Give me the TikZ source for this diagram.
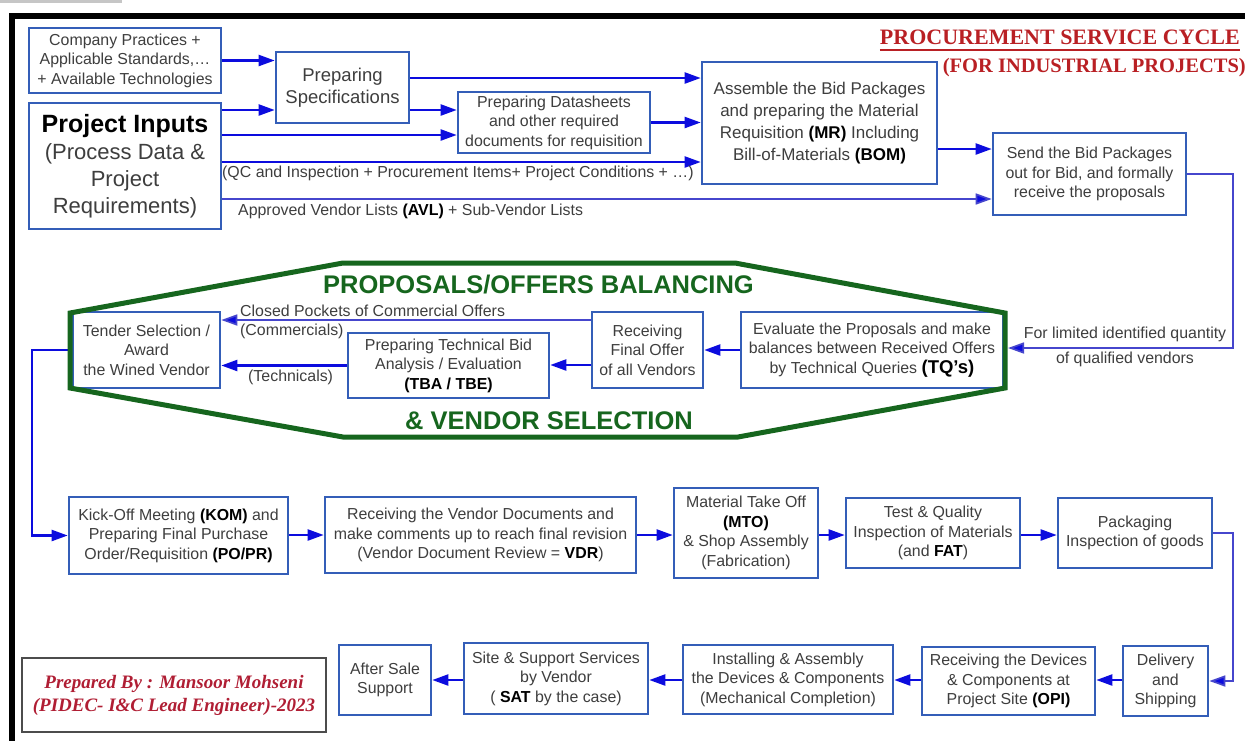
\documentclass[tikz,border=0pt]{standalone}
\usepackage{fontspec}
\setmainfont{Liberation Sans}
\newfontfamily\titlefont{Liberation Serif}
\usetikzlibrary{arrows.meta}

\definecolor{boxblue}{RGB}{52,94,184}
\definecolor{arrblue}{RGB}{12,12,222}
\definecolor{thinblue}{RGB}{70,70,205}
\definecolor{txtgray}{RGB}{62,62,62}
\definecolor{hexgreen}{RGB}{22,102,30}
\definecolor{titlered}{RGB}{185,32,36}
\definecolor{signred}{RGB}{176,30,52}

\newcommand{\boxfont}{\fontsize{15.9}{19.5}\selectfont}
\newcommand{\kw}[1]{\textcolor{black}{\textbf{#1}}}

\begin{document}
\begin{tikzpicture}[x=1pt,y=-1pt,
  box/.style={draw=boxblue, line width=2.6pt, fill=white, text=txtgray,
    align=center, inner sep=0pt, font=\boxfont},
  sz/.style 2 args={minimum width=#1pt, minimum height=#2pt},
  arr/.style={draw=arrblue, line width=2.2pt,
    -{Triangle[length=16pt,width=11pt]}},
  thinarr/.style={draw=thinblue, line width=1.7pt,
    -{Triangle[length=16pt,width=11pt,fill=arrblue]}},
  lbl/.style={text=txtgray, font=\fontsize{15.9}{18}\selectfont, inner sep=0pt},
]
\useasboundingbox (0,0) rectangle (1245,740);
\clip (0,0) rectangle (1245,740);

% outer frame
\fill[gray!45] (0,0) rectangle (122,2.5);
\draw[black, line width=6pt] (11.5,16) rectangle (1290,790);

% title
\node[anchor=base east, inner sep=0pt, text=titlered,
  font=\titlefont\bfseries\fontsize{22}{26}\selectfont] (title1) at (1240,44)
  {PROCUREMENT SERVICE CYCLE};
\draw[titlered, line width=1.6pt] ([yshift=-6pt]title1.base west) -- ([yshift=-6pt]title1.base east);
\node[anchor=base east, inner sep=0pt, text=titlered,
  font=\titlefont\bfseries\fontsize{20.5}{24}\selectfont] (title2) at (1246,72)
  {(FOR INDUSTRIAL PROJECTS)};

% helper levels for horizontal connectors
\coordinate (h78) at (0,78);
\coordinate (h110) at (0,110);
\coordinate (h135) at (0,135);
\coordinate (h149) at (0,149);
\coordinate (h162) at (0,162);
\coordinate (h199) at (0,199);
\coordinate (h320) at (0,320);
\coordinate (h365) at (0,365);
\coordinate (h535) at (0,535);
\coordinate (h680) at (0,680);
\coordinate (hexR) at (1008,348);

% ---- row 1: inputs and bid packages
\node[box, sz={192}{65}] (comp) at (125,60.5)
  {Company Practices +\\Applicable Standards,…\\+ Available Technologies};
\node[box, sz={192}{126}, font=\fontsize{22}{27}\selectfont] (proj) at (125,166)
  {\textcolor{black}{\fontsize{25}{27}\selectfont\bfseries Project Inputs}\\(Process Data \&\\Project\\Requirements)};
\node[box, sz={133}{71}, font=\fontsize{18.5}{22}\selectfont] (spec) at (342.5,87.5)
  {Preparing\\Specifications};
\node[box, sz={192}{61}] (data) at (554,122.5)
  {Preparing Datasheets\\and other required\\documents for requisition};
\node[box, sz={235}{122}, font=\fontsize{17}{22}\selectfont] (asm) at (819.5,123)
  {Assemble the Bid Packages\\and preparing the Material\\Requisition \kw{(MR)} Including\\Bill-of-Materials \kw{(BOM)}};
\node[box, sz={193}{82}] (send) at (1089.5,174)
  {Send the Bid Packages\\out for Bid, and formally\\receive the proposals};

\draw[arr] (comp.east) -- (comp.east -| spec.west);
\draw[arr] (proj.east |- h110) -- (spec.west |- h110);
\draw[arr] (spec.east |- h78) -- (asm.west |- h78);
\draw[arr] (spec.east |- h110) -- (data.west |- h110);
\draw[arr] (proj.east |- h135) -- (data.west |- h135);
\draw[arr] (data.east) -- (data.east -| asm.west);
\draw[arr] (proj.east |- h162) -- (asm.west |- h162);
\draw[thinarr] (proj.east |- h199) -- (send.west |- h199);
\draw[arr] (asm.east |- h149) -- (send.west |- h149);

\node[lbl, anchor=west] (qc) at (222,173)
  {(QC and Inspection + Procurement Items+ Project Conditions + …)};
\node[lbl, anchor=west] (avl) at (238,211)
  {Approved Vendor Lists \kw{(AVL)} + Sub-Vendor Lists};

% ---- row 2: offers balancing and vendor selection
\node[box, sz={147}{76}] (tender) at (146.5,350)
  {Tender Selection /\\Award\\the Wined Vendor};
\node[box, sz={201}{65}] (tba) at (448.5,365.5)
  {Preparing Technical Bid\\Analysis / Evaluation\\\kw{(TBA / TBE)}};
\node[box, sz={111}{76}] (recv) at (647.5,350)
  {Receiving\\Final Offer\\of all Vendors};
\node[box, sz={262}{76}] (eval) at (872,350)
  {Evaluate the Proposals and make\\balances between Received Offers\\by Technical Queries \kw{\fontsize{18.5}{19.5}\selectfont(TQ's)}};

\draw[thinarr] (send.east) -- ++(46,0) |- (hexR);
\draw[arr] (eval.west) -- (recv.east);
\draw[arr] (recv.west |- h365) -- (tba.east |- h365);
\draw[arr] (tba.west) -- (tba.west -| tender.east);
\draw[thinarr] (recv.west |- h320) -- (tender.east |- h320);

\node[lbl] (lim1) at (1125,334) {For limited identified quantity};
\node[lbl] (lim2) at (1125,359) {of qualified vendors};
\node[lbl, anchor=west] (cpo) at (240,311) {Closed Pockets of Commercial Offers};
\node[lbl, anchor=west] (com) at (240,331) {(Commercials)};
\node[lbl, anchor=west] (tec) at (248,377) {(Technicals)};

% ---- row 3: purchase order to packaging
\node[box, sz={219}{77}] (kom) at (178.5,535.5)
  {Kick-Off Meeting \kw{(KOM)} and\\Preparing Final Purchase\\Order/Requisition \kw{(PO/PR)}};
\node[box, sz={311}{76}] (vdr) at (480.5,535)
  {Receiving the Vendor Documents and\\make comments up to reach final revision\\(Vendor Document Review = \kw{VDR})};
\node[box, sz={144}{90}] (mto) at (746,533)
  {Material Take Off\\\kw{(MTO)}\\\& Shop Assembly\\(Fabrication)};
\node[box, sz={174}{70}] (test) at (933,533)
  {Test \& Quality\\Inspection of Materials\\(and \kw{FAT})};
\node[box, sz={154}{70}] (pack) at (1135,533)
  {Packaging\\Inspection of goods};

\draw[arr] (tender.west) -- ++(-40,0) |- (kom.west);
\draw[arr] (kom.east |- h535) -- (vdr.west |- h535);
\draw[arr] (vdr.east |- h535) -- (mto.west |- h535);
\draw[arr] (mto.east |- h535) -- (test.west |- h535);
\draw[arr] (test.east |- h535) -- (pack.west |- h535);

% green outline of the balancing stage
\draw[hexgreen, line width=5pt, line join=miter]
  (70,313) -- (343,263) -- (735,263) -- (1005,313) -- (1005,388)
  -- (738,437) -- (343,437) -- (70,388) -- cycle;
\node[text=hexgreen, font=\fontsize{25.5}{28}\selectfont\bfseries] (hextop) at (538.5,285)
  {PROPOSALS/OFFERS BALANCING};
\node[text=hexgreen, font=\fontsize{25.5}{28}\selectfont\bfseries] (hexbot) at (549,421)
  {\& VENDOR SELECTION};

% ---- row 4: delivery to after-sale support
\node[box, sz={85}{70}] (deliv) at (1165.5,681)
  {Delivery\\and\\Shipping};
\node[box, sz={173}{68}] (opi) at (1008.5,681)
  {Receiving the Devices\\\& Components at\\Project Site \kw{(OPI)}};
\node[box, sz={210}{69}] (inst) at (788,679.5)
  {Installing \& Assembly\\the Devices \& Components\\(Mechanical Completion)};
\node[box, sz={184}{71}] (site) at (556,678.5)
  {Site \& Support Services\\by Vendor\\( \kw{SAT} by the case)};
\node[box, sz={92}{70}] (after) at (385,680)
  {After Sale\\Support};

\draw[thinarr] (pack.east) -- ++(20,0) |- (deliv.east);
\draw[arr] (deliv.west |- h680) -- (opi.east |- h680);
\draw[arr] (opi.west |- h680) -- (inst.east |- h680);
\draw[arr] (inst.west |- h680) -- (site.east |- h680);
\draw[arr] (site.west |- h680) -- (after.east |- h680);

% author box
\node[draw=gray!60!black, line width=1.8pt, sz={304}{74}, align=center, text=signred,
  font=\titlefont\bfseries\itshape\fontsize{19}{23}\selectfont] (sign) at (174,695)
  {Prepared By : Mansoor Mohseni\\(PIDEC- I\&C Lead Engineer)-2023};
\end{tikzpicture}
\end{document}
